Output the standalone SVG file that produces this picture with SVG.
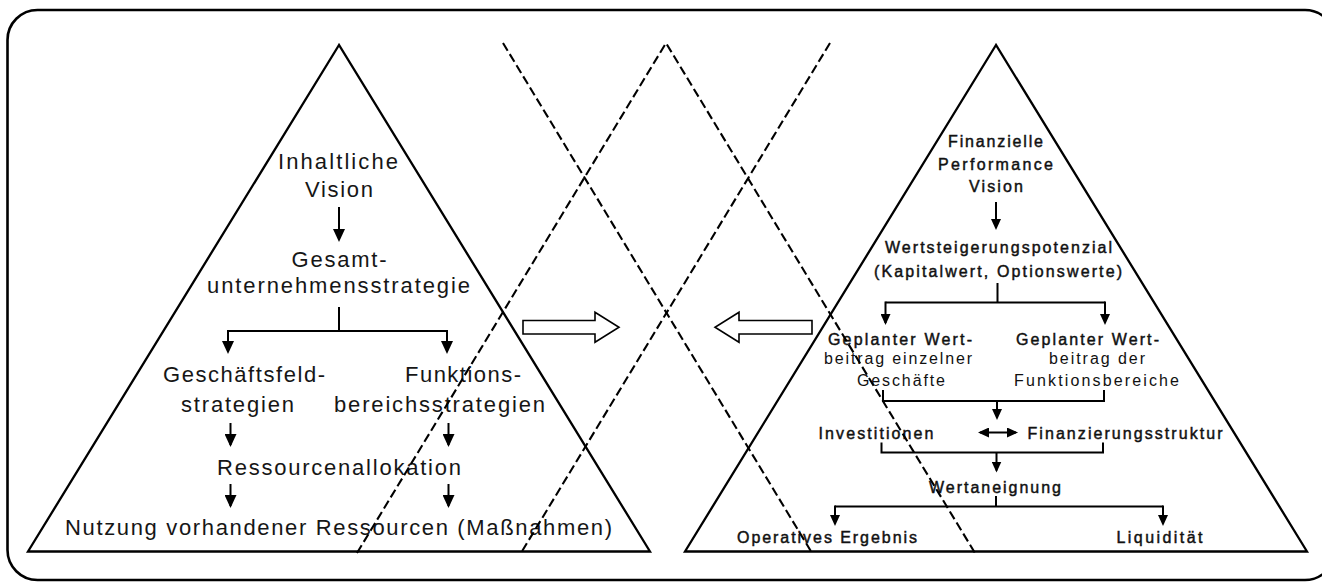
<svg xmlns="http://www.w3.org/2000/svg" width="1322" height="583" viewBox="0 0 1322 583">
<style>
.frame{fill:none;stroke:#000;stroke-width:2.6}
.tri{fill:none;stroke:#000;stroke-width:2.3;stroke-linejoin:miter}
.dash{fill:none;stroke:#000;stroke-width:2.1;stroke-dasharray:9 4}
.ln{fill:none;stroke:#000;stroke-width:2}
.al{fill:none;stroke:#000;stroke-width:2;marker-end:url(#a)}
.ar{fill:none;stroke:#000;stroke-width:2;marker-end:url(#b)}
.blk{fill:#fff;stroke:#000;stroke-width:1.6;stroke-linejoin:miter}
.tl{font-family:"Liberation Sans",Arial,sans-serif;font-size:22px;fill:#161616;text-anchor:middle}
.tr{font-family:"Liberation Sans",Arial,sans-serif;font-size:16px;fill:#111;stroke:#111;stroke-width:0.45;text-anchor:middle}
.trn{font-family:"Liberation Sans",Arial,sans-serif;font-size:16px;fill:#111;text-anchor:middle}
</style>
<defs>
<marker id="a" viewBox="0 0 13 12" refX="11" refY="6" markerWidth="13" markerHeight="12" markerUnits="userSpaceOnUse" orient="auto"><path d="M0,0 L13,6 L0,12 Z" fill="#000"/></marker>
<marker id="b" viewBox="0 0 11 10" refX="9" refY="5" markerWidth="11" markerHeight="10" markerUnits="userSpaceOnUse" orient="auto-start-reverse"><path d="M0,0 L11,5 L0,10 Z" fill="#000"/></marker>
</defs>
<rect class="frame" x="7.5" y="10" width="1327.5" height="570" rx="30" ry="30"/>
<g id="left-pyramid">
<polygon class="tri" points="339,45 28,551.5 650,551.5"/>
</g>
<g id="right-pyramid">
<polygon class="tri" points="996,45 685,551.5 1307,551.5"/>
</g>
<g id="left-texts">
<g id="n-inhaltliche-vision">
<text class="tl" x="338" y="169" textLength="120" lengthAdjust="spacing">Inhaltliche</text>
<text class="tl" x="339" y="197" textLength="68" lengthAdjust="spacing">Vision</text>
</g>
<g id="n-gesamt">
<text class="tl" x="339" y="267" textLength="95" lengthAdjust="spacing">Gesamt-</text>
<text class="tl" x="338.5" y="293" textLength="263" lengthAdjust="spacing">unternehmensstrategie</text>
</g>
<g id="n-geschaeftsfeld">
<text class="tl" x="244" y="382" textLength="162" lengthAdjust="spacing">Geschäftsfeld-</text>
<text class="tl" x="237.5" y="412" textLength="113" lengthAdjust="spacing">strategien</text>
</g>
<g id="n-funktions">
<text class="tl" x="463" y="382" textLength="116" lengthAdjust="spacing">Funktions-</text>
<text class="tl" x="439.5" y="412" textLength="211" lengthAdjust="spacing">bereichsstrategien</text>
</g>
<g id="n-ressourcen">
<text class="tl" x="339" y="475" textLength="244" lengthAdjust="spacing">Ressourcenallokation</text>
</g>
<g id="n-nutzung">
<text class="tl" x="338.5" y="535" textLength="547" lengthAdjust="spacing">Nutzung vorhandener Ressourcen (Maßnahmen)</text>
</g>
</g>
<g id="right-texts">
<g id="n-fin-vision">
<text class="tr" x="995.5" y="147" textLength="95" lengthAdjust="spacing">Finanzielle</text>
<text class="tr" x="995.5" y="170" textLength="115" lengthAdjust="spacing">Performance</text>
<text class="tr" x="996" y="192" textLength="54" lengthAdjust="spacing">Vision</text>
</g>
<g id="n-wertsteigerung">
<text class="tr" x="998.5" y="253" textLength="227" lengthAdjust="spacing">Wertsteigerungspotenzial</text>
<text class="tr" x="998" y="277" textLength="248" lengthAdjust="spacing">(Kapitalwert, Optionswerte)</text>
</g>
<g id="n-wert-geschaefte">
<text class="tr" x="900" y="345" textLength="144" lengthAdjust="spacing">Geplanter Wert-</text>
<text class="trn" x="898" y="364" textLength="148" lengthAdjust="spacing">beitrag einzelner</text>
<text class="trn" x="901" y="386" textLength="88" lengthAdjust="spacing">Geschäfte</text>
</g>
<g id="n-wert-funktionen">
<text class="tr" x="1087.5" y="345" textLength="143" lengthAdjust="spacing">Geplanter Wert-</text>
<text class="trn" x="1097" y="364" textLength="96" lengthAdjust="spacing">beitrag der</text>
<text class="trn" x="1096.5" y="386" textLength="165" lengthAdjust="spacing">Funktionsbereiche</text>
</g>
<g id="n-investitionen">
<text class="tr" x="876" y="439" textLength="115" lengthAdjust="spacing">Investitionen</text>
</g>
<g id="n-finanzierung">
<text class="tr" x="1125" y="439" textLength="195" lengthAdjust="spacing">Finanzierungsstruktur</text>
</g>
<g id="n-wertaneignung">
<text class="tr" x="995" y="492.5" textLength="132" lengthAdjust="spacing">Wertaneignung</text>
</g>
<g id="n-operativ">
<text class="tr" x="827" y="542.5" textLength="180" lengthAdjust="spacing">Operatives Ergebnis</text>
</g>
<g id="n-liquiditaet">
<text class="tr" x="1159.5" y="542.5" textLength="86" lengthAdjust="spacing">Liquidität</text>
</g>
</g>
<g id="connectors">
<line class="al" x1="339" y1="207" x2="339" y2="240"/>
<path class="ln" d="M339,307 V331 M228,331 H447"/>
<line class="al" x1="228" y1="330" x2="228" y2="352"/>
<line class="al" x1="447" y1="330" x2="447" y2="352"/>
<line class="al" x1="230.5" y1="423" x2="230.5" y2="445"/>
<line class="al" x1="448.5" y1="423" x2="448.5" y2="445"/>
<line class="al" x1="230.5" y1="484" x2="230.5" y2="506"/>
<line class="al" x1="448.5" y1="484" x2="448.5" y2="506"/>
<line class="ar" x1="996" y1="202" x2="996" y2="228"/>
<path class="ln" d="M997.5,283 V302.5 M885.5,302.5 H1105"/>
<line class="ar" x1="885.5" y1="301.5" x2="885.5" y2="323"/>
<line class="ar" x1="1105" y1="301.5" x2="1105" y2="323"/>
<path class="ln" d="M883,390 V401 H1104 V390"/>
<line class="ar" x1="997" y1="400" x2="997" y2="418"/>
<line class="ar" x1="980" y1="432.5" x2="1016" y2="432.5" style="marker-start:url(#b)"/>
<path class="ln" d="M881.5,442.5 V452.5 H1103 V442.5"/>
<line class="ar" x1="996.5" y1="452" x2="996.5" y2="470.5"/>
<path class="ln" d="M996,496 V506.5 M835,506.5 H1163"/>
<line class="ar" x1="835" y1="505.5" x2="835" y2="524"/>
<line class="ar" x1="1163" y1="505.5" x2="1163" y2="524"/>
<polygon class="blk" points="523,320.5 595,320.5 595,312.3 619,327.3 595,342.3 595,334 523,334"/>
<polygon class="blk" points="812,320.5 739,320.5 739,312.3 715,327.3 739,342.3 739,334 812,334"/>
</g>
<g id="dashed-lines">
<line class="dash" x1="503" y1="43" x2="812" y2="553"/>
<polyline class="dash" points="357,553 666,43 975,553"/>
<line class="dash" x1="830" y1="43" x2="521" y2="553"/>
</g>
</svg>
